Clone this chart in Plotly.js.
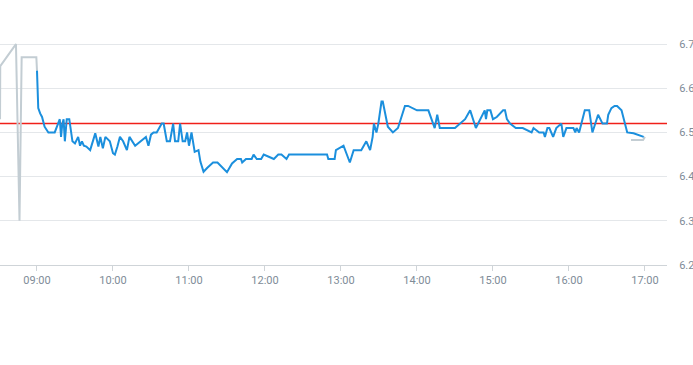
<!DOCTYPE html>
<html>
<head>
<meta charset="utf-8">
<script src="https://cdn.plot.ly/plotly-3.0.1.min.js"></script>
<style>html,body{margin:0;padding:0;background:#fff}#chart{width:693px;height:365px}</style>
</head>
<body>
<div id="chart"></div>
<script>
const DAY = "2024-05-10 ";
const xRange = ["08:30:48", "17:17:24"];
const refLevel = 6.52;

const preTimes = ["08:30:50","08:31:00","08:43:24","08:46:12","08:47:54","08:59:30","09:00:00"];
const preValues = [6.53, 6.65, 6.70, 6.30, 6.67, 6.67, 6.64];

const postTimes = ["16:49:00","16:58:30","17:00:00"];
const postValues = [6.483, 6.483, 6.49];

const mainTimes = [
"09:00:00","09:01:00","09:02:30","09:04:00","09:06:00","09:09:00","09:14:00","09:17:00","09:18:00","09:19:00",
"09:20:00","09:21:00","09:22:00","09:23:30","09:25:30","09:28:00","09:30:00","09:32:30","09:34:00","09:35:30",
"09:37:00","09:39:00","09:42:00","09:46:00","09:48:30","09:50:00","09:52:00","09:54:00","09:57:30","10:00:00",
"10:01:30","10:03:30","10:05:30","10:08:00","10:11:00","10:13:00","10:15:00","10:17:30","10:26:00","10:28:00",
"10:30:00","10:32:00","10:34:30","10:36:30","10:38:30","10:40:00","10:42:30","10:45:00","10:47:30","10:49:00",
"10:51:30","10:53:00","10:55:00","10:57:00","10:58:30","11:00:00","11:02:00","11:04:30","11:07:30","11:09:00",
"11:11:30","11:14:30","11:19:00","11:22:30","11:24:30","11:30:00","11:34:00","11:36:00","11:38:00","11:41:00",
"11:42:00","11:45:00","11:49:30","11:51:00","11:53:30","11:57:00","11:59:00","12:03:00","12:07:00","12:10:30",
"12:13:00","12:17:00","12:19:00","12:49:00","12:50:00","12:55:00","12:56:00","13:02:00","13:07:00","13:10:00",
"13:16:00","13:18:00","13:20:00","13:23:00","13:25:00","13:26:00","13:28:00","13:29:30","13:32:00","13:33:00",
"13:37:00","13:41:00","13:45:00","13:50:30","13:53:00","14:00:00","14:09:00","14:14:00","14:16:00","14:18:00",
"14:30:00","14:38:00","14:42:00","14:46:30","14:53:30","14:54:30","14:55:30","14:58:00","15:00:00","15:03:00",
"15:08:00","15:09:30","15:11:00","15:13:30","15:18:00","15:23:30","15:26:30","15:30:30","15:32:00","15:36:30",
"15:40:00","15:41:00","15:43:00","15:44:30","15:47:30","15:50:00","15:54:00","15:55:30","15:58:00","16:03:30",
"16:05:00","16:06:00","16:08:00","16:10:00","16:12:30","16:16:00","16:18:30","16:23:00","16:26:30","16:30:00",
"16:31:00","16:33:30","16:36:00","16:38:00","16:41:30","16:46:00","16:51:00","16:59:00"
];
const mainValues = [
6.64,6.555,6.543,6.535,6.513,6.50,6.50,6.52,6.53,6.49,
6.52,6.53,6.48,6.53,6.53,6.48,6.475,6.49,6.47,6.48,
6.47,6.468,6.46,6.498,6.468,6.49,6.464,6.49,6.48,6.453,
6.45,6.468,6.49,6.48,6.46,6.49,6.48,6.47,6.49,6.47,
6.495,6.50,6.50,6.51,6.52,6.52,6.48,6.48,6.52,6.48,
6.48,6.52,6.48,6.48,6.50,6.47,6.50,6.456,6.46,6.434,
6.411,6.42,6.432,6.432,6.426,6.41,6.43,6.434,6.44,6.44,
6.432,6.44,6.44,6.45,6.44,6.44,6.45,6.445,6.44,6.45,
6.45,6.44,6.45,6.45,6.44,6.44,6.46,6.47,6.432,6.46,
6.46,6.47,6.48,6.46,6.49,6.52,6.50,6.52,6.57,6.57,
6.513,6.50,6.51,6.56,6.56,6.55,6.55,6.51,6.54,6.51,
6.51,6.53,6.55,6.51,6.55,6.53,6.55,6.55,6.53,6.535,
6.55,6.55,6.53,6.52,6.51,6.51,6.505,6.50,6.51,6.50,
6.50,6.49,6.51,6.51,6.49,6.51,6.52,6.49,6.51,6.51,
6.50,6.51,6.50,6.52,6.55,6.55,6.50,6.54,6.52,6.52,
6.54,6.555,6.56,6.56,6.55,6.50,6.498,6.49
];

const tickVals = ["09:00","10:00","11:00","12:00","13:00","14:00","15:00","16:00","17:00"];
const yTicks = [6.2, 6.3, 6.4, 6.5, 6.6, 6.7];

const d = t => DAY + t;
const grayColor = "#c3cdd3";
const blueColor = "#1b8fdd";
const labelFont = {family: "Roboto, 'Liberation Sans', sans-serif", size: 11, color: "#808c98"};

const traces = [
  {x: preTimes.map(d), y: preValues, type: "scatter", mode: "lines",
   line: {color: grayColor, width: 2}, hoverinfo: "skip"},
  {x: postTimes.map(d), y: postValues, type: "scatter", mode: "lines",
   line: {color: grayColor, width: 2}, hoverinfo: "skip"},
  {x: mainTimes.map(d), y: mainValues, type: "scatter", mode: "lines",
   line: {color: blueColor, width: 2}}
];

const layout = {
  width: 693, height: 365,
  margin: {l: 0, r: 26, t: 22, b: 100},
  paper_bgcolor: "#fff", plot_bgcolor: "#fff",
  showlegend: false,
  xaxis: {
    type: "date",
    range: xRange.map(d),
    tickvals: tickVals.map(t => d(t + ":00")),
    ticktext: tickVals,
    showgrid: false, zeroline: false,
    showline: true, linecolor: "#cfd4d8", linewidth: 1,
    ticks: "outside", ticklen: 5, tickcolor: "#cfd4d8",
    tickfont: labelFont, automargin: false
  },
  yaxis: {
    side: "right",
    range: [6.2, 6.75],
    tickvals: yTicks,
    ticktext: yTicks.map(v => v.toFixed(1)),
    showgrid: true, gridcolor: "#e4e7ea", gridwidth: 1,
    zeroline: false, showline: false,
    ticks: "outside", ticklen: 9, tickcolor: "rgba(0,0,0,0)",
    tickfont: labelFont, automargin: false
  },
  shapes: [{
    type: "line", xref: "paper", x0: 0, x1: 1, yref: "y", y0: refLevel, y1: refLevel,
    layer: "below",
    line: {color: "#f0201a", width: 1.5}
  }]
};

Plotly.newPlot("chart", traces, layout, {displayModeBar: false, staticPlot: true});
</script>
</body>
</html>
